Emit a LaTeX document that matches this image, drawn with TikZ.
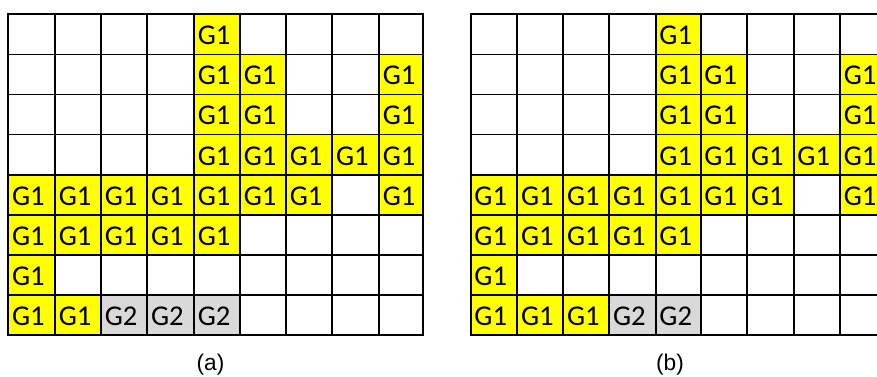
\documentclass[tikz,border=0pt]{standalone}
\usepackage{fontspec}
\setmainfont{Liberation Sans}
\newfontfamily\cellfont{Carlito}
\definecolor{gyellow}{HTML}{FFFF00}
\definecolor{ggray}{HTML}{D9D9D9}
\tikzset{
  celltext/.style={anchor=base west, inner sep=0pt, text=black, font=\cellfont\fontsize{21.5}{25}\selectfont},
  gridline/.style={draw=black, line width=1.3pt, line cap=rect},
  sublabel/.style={anchor=base, inner sep=0pt, font=\fontsize{17}{20}\selectfont},
}
\def\XA{{8.3,55,101,147.3,194,240,286,332.3,379,422.7}}
\def\XB{{470.7,517.3,563.3,609.3,655.7,700.7,747.3,793.7,840,886.3}}
\newcommand\drawgrid[3]{%
  \foreach \r/\c/\t in {#3}{
    \pgfmathsetmacro\xa{#1[\c-1]}
    \pgfmathsetmacro\xb{#1[\c]}
    \pgfmathsetmacro\ya{14.3+40.09*(\r-1)}
    \pgfmathsetmacro\yb{14.3+40.09*\r}
    \ifnum\t=1 \def\fc{gyellow}\else\def\fc{ggray}\fi
    \fill[\fc] (\xa,\ya) rectangle (\xb,\yb);
  }
  \foreach \c in {0,...,9}{
    \pgfmathsetmacro\xa{#1[\c]}
    \draw[gridline] (\xa,14.3) -- (\xa,335);
  }
  \foreach \r in {0,...,8}{
    \pgfmathsetmacro\xa{#1[0]}
    \pgfmathsetmacro\xb{#1[9]}
    \pgfmathsetmacro\ya{14.3+40.09*\r}
    \draw[gridline] (\xa,\ya) -- (\xb,\ya);
  }
  \foreach \r/\c/\t in {#3}{
    \pgfmathsetmacro\xa{#1[\c-1]}
    \pgfmathsetmacro\ya{14.3+40.09*(\r-1)}
    \node[celltext] (#2-\r-\c) at (\xa+3.5,\ya+30.5) {G\t};
  }
}
\begin{document}
\begin{tikzpicture}[x=0.75pt,y=-0.75pt]
\useasboundingbox (0,0) rectangle (877,376);
\clip (0,0) rectangle (877,376);
\fill[white] (0,0) rectangle (877,376);
\drawgrid{\XA}{a}{1/5/1, 2/5/1, 2/6/1, 2/9/1, 3/5/1, 3/6/1, 3/9/1, 4/5/1, 4/6/1, 4/7/1, 4/8/1, 4/9/1, 5/1/1, 5/2/1, 5/3/1, 5/4/1, 5/5/1, 5/6/1, 5/7/1, 5/9/1, 6/1/1, 6/2/1, 6/3/1, 6/4/1, 6/5/1, 7/1/1, 8/1/1, 8/2/1, 8/3/2, 8/4/2, 8/5/2}
\drawgrid{\XB}{b}{1/5/1, 2/5/1, 2/6/1, 2/9/1, 3/5/1, 3/6/1, 3/9/1, 4/5/1, 4/6/1, 4/7/1, 4/8/1, 4/9/1, 5/1/1, 5/2/1, 5/3/1, 5/4/1, 5/5/1, 5/6/1, 5/7/1, 5/9/1, 6/1/1, 6/2/1, 6/3/1, 6/4/1, 6/5/1, 7/1/1, 8/1/1, 8/2/1, 8/3/1, 8/4/2, 8/5/2}
\node[sublabel] (labA) at (210.5,370) {(a)};
\node[sublabel] (labB) at (670,370) {(b)};
\end{tikzpicture}
\end{document}
